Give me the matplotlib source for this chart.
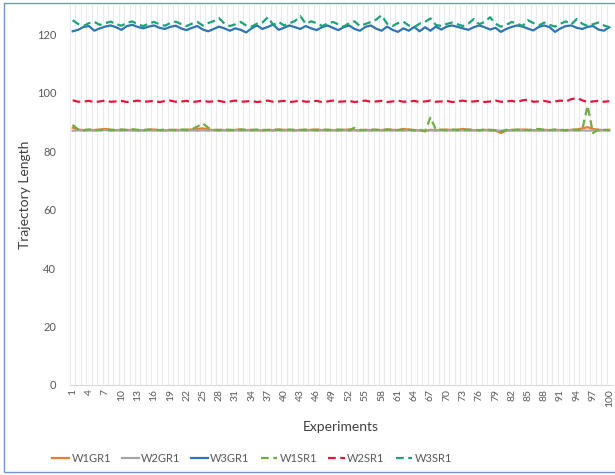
import numpy as np
import matplotlib.pyplot as plt
from matplotlib.patches import Rectangle

plt.rcParams['font.family'] = ['Lato', 'DejaVu Sans']

# experiments 1..100
experiments = list(range(1, 101))

# W1GR1 - orange solid
w1gr1 = [88.0, 87.4, 87.2, 87.3, 87.2, 87.4, 87.6, 87.3, 87.2, 87.3, 87.2, 87.3, 87.1, 87.2, 87.3, 87.4, 87.2, 87.1, 87.2, 87.3, 87.2, 87.3, 87.4, 87.6, 87.8,
         87.4, 87.2, 87.3, 87.2, 87.1, 87.3, 87.4, 87.2, 87.3, 87.2, 87.1, 87.3, 87.2, 87.4, 87.3, 87.2, 87.1, 87.3, 87.2, 87.3, 87.4, 87.2, 87.3, 87.2, 87.1,
         87.3, 87.4, 87.2, 87.1, 87.3, 87.2, 87.3, 87.2, 87.4, 87.3, 87.2, 87.6, 87.4, 87.2, 87.1, 86.8, 87.3, 87.2, 87.3, 87.4, 87.2, 87.3, 87.6, 87.3, 87.2,
         87.1, 87.3, 87.2, 87.0, 86.2, 87.0, 87.3, 87.2, 87.4, 87.3, 87.2, 87.1, 87.3, 87.2, 87.3, 87.2, 87.1, 87.3, 87.4, 87.8, 88.2, 87.6, 87.3, 87.2, 87.3]

# W2GR1 - gray solid
w2gr1 = [87.0, 87.1, 87.0, 87.1, 87.0, 87.1, 87.2, 87.0, 87.1, 87.0, 87.1, 87.0, 87.1, 87.0, 87.1, 87.0, 87.1, 87.0, 87.1, 87.0, 87.1, 87.0, 87.1, 87.0, 87.1,
         87.0, 87.1, 87.0, 87.1, 87.0, 87.1, 87.0, 87.1, 87.0, 87.1, 87.0, 87.1, 87.0, 87.1, 87.0, 87.1, 87.0, 87.1, 87.0, 87.1, 87.0, 87.1, 87.0, 87.1, 87.0,
         87.1, 87.0, 87.1, 87.0, 87.1, 87.0, 87.1, 87.0, 87.1, 87.0, 87.1, 87.0, 87.1, 87.0, 87.1, 87.0, 87.1, 87.0, 87.1, 87.0, 87.1, 87.0, 87.1, 87.0, 87.1,
         87.0, 87.1, 87.0, 87.1, 87.0, 87.1, 87.0, 87.1, 87.0, 87.1, 87.0, 87.1, 87.0, 87.1, 87.0, 87.1, 87.0, 87.1, 87.0, 87.1, 87.0, 87.1, 87.0, 87.1, 87.0]

# W3GR1 - blue solid
w3gr1 = [121.0, 121.5, 122.5, 122.8, 121.2, 122.0, 122.6, 123.0, 122.4, 121.5, 122.8, 123.2, 122.5, 122.0, 122.6, 123.0, 122.2, 121.8, 122.5, 122.9, 122.0, 121.4, 122.2, 122.8, 121.6,
         121.0, 121.8, 122.6, 122.0, 121.2, 122.0, 121.5, 120.6, 122.0, 123.0, 121.8, 122.5, 123.3, 121.5, 122.2, 123.0, 122.4, 121.8, 122.8, 122.0, 121.4, 122.4, 123.0, 122.2, 121.4,
         122.4, 123.0, 121.8, 121.2, 122.5, 123.0, 121.9, 121.2, 122.6, 121.5, 120.8, 122.0, 121.2, 122.5, 121.0, 122.4, 121.2, 122.6, 121.6, 122.6, 123.0, 122.5, 122.0, 121.5, 122.4,
         123.0, 122.4, 121.6, 122.2, 120.8, 121.8, 122.5, 123.0, 122.6, 121.9, 121.3, 122.5, 123.0, 122.4, 120.8, 122.0, 122.8, 123.0, 122.2, 121.8, 122.5, 122.8, 121.6, 121.2, 122.4]

# W1SR1 - green dashed
w1sr1 = [89.0, 87.4, 87.2, 87.4, 87.3, 87.2, 87.4, 87.3, 87.2, 87.4, 87.3, 87.5, 87.3, 87.2, 87.4, 87.3, 87.2, 87.4, 87.3, 87.2, 87.4, 87.3, 87.5, 88.4, 89.5,
         88.0, 87.3, 87.2, 87.4, 87.3, 87.2, 87.4, 87.3, 87.2, 87.4, 87.3, 87.2, 87.4, 87.3, 87.2, 87.4, 87.3, 87.2, 87.4, 87.3, 87.2, 87.4, 87.3, 87.2, 87.4,
         87.3, 87.2, 88.0, 87.3, 87.2, 87.4, 87.3, 87.2, 87.4, 87.3, 87.2, 87.4, 87.3, 87.2, 87.4, 86.8, 91.5, 87.4, 87.3, 87.2, 87.4, 87.3, 87.2, 87.4, 87.3,
         87.2, 87.4, 87.3, 87.2, 86.6, 87.3, 87.2, 87.4, 87.3, 87.2, 87.4, 87.6, 87.3, 87.2, 87.4, 87.3, 87.2, 87.4, 87.3, 87.2, 95.5, 86.2, 87.4, 87.3, 87.2]

# W2SR1 - red dashed
w2sr1 = [97.4, 96.9, 97.0, 97.2, 96.8, 97.0, 97.3, 96.9, 97.0, 97.2, 96.8, 97.0, 97.3, 96.9, 97.0, 97.2, 96.8, 97.1, 97.3, 96.9, 97.0, 97.2, 96.8, 97.0, 97.3,
         96.9, 97.0, 97.2, 96.8, 97.0, 97.3, 96.9, 97.0, 97.2, 96.8, 97.0, 97.3, 96.9, 97.0, 97.2, 96.8, 97.0, 97.3, 96.9, 97.0, 97.2, 96.8, 97.0, 97.3, 96.9,
         97.0, 97.2, 96.8, 97.0, 97.3, 96.9, 97.0, 97.2, 96.8, 97.0, 97.3, 96.9, 97.0, 97.2, 96.8, 97.0, 97.3, 96.9, 97.0, 97.2, 96.8, 97.0, 97.3, 96.9, 97.0,
         97.2, 96.8, 97.0, 97.3, 96.9, 97.0, 97.2, 96.8, 97.4, 97.6, 96.9, 97.0, 97.2, 96.8, 97.0, 97.3, 97.0, 97.8, 98.2, 97.4, 96.8, 97.0, 97.2, 96.9, 97.1]

# W3SR1 - teal dashed
w3sr1 = [124.8, 123.5, 122.8, 123.8, 124.2, 123.2, 123.8, 124.3, 123.5, 122.9, 123.9, 124.4, 123.4, 122.8, 123.6, 124.2, 123.4, 122.9, 123.8, 124.3, 123.5, 122.8, 123.6, 124.2, 123.0,
         123.8, 124.5, 125.5, 123.6, 122.8, 123.4, 124.2, 123.0, 122.6, 123.6, 124.0, 125.8, 123.2, 124.2, 123.0, 123.8, 124.5, 126.2, 123.6, 124.4, 123.8, 122.8, 123.6, 124.2, 123.4,
         122.6, 123.8, 124.4, 122.8, 123.5, 124.2, 125.0, 126.5, 123.6, 122.8, 123.8, 124.3, 123.0, 122.4, 123.6, 124.2, 125.4, 123.2, 122.8, 123.5, 124.0, 123.4, 122.8, 123.6, 125.2,
         123.4, 124.2, 125.8, 123.6, 122.6, 123.2, 124.2, 123.6, 122.8, 124.8, 123.8, 123.0, 124.0, 123.2, 122.6, 123.6, 124.4, 123.4, 125.2, 123.6, 122.8, 123.4, 124.0, 123.0, 122.4]

names = ['W1GR1', 'W2GR1', 'W3GR1', 'W1SR1', 'W2SR1', 'W3SR1']
series = [w1gr1, w2gr1, w3gr1, w1sr1, w2sr1, w3sr1]
colors = ['#ED7D31', '#A5A5A5', '#2E75B6', '#70AD47', '#E3173E', '#1CA37A']
styles = ['-', '-', '-', '--', '--', '--']

fig = plt.figure(figsize=(6.15, 4.75), dpi=100)
ax = fig.add_axes([0.1138, 0.1895, 0.8813, 0.80])

# chart border (right edge cut off like the reference)
fig.patches.append(Rectangle((0.006, 0.007), 1.1, 0.986, transform=fig.transFigure,
                             fill=False, edgecolor='#6F96CF', linewidth=1.0))

# vertical gridlines at category boundaries
for b in np.arange(0.5, 101, 1):
    ax.axvline(b, color='#E6E6E6', linewidth=0.6, zorder=0)

for name, vals, c, ls in zip(names, series, colors, styles):
    if ls == '--':
        ax.plot(experiments, vals, color=c, linestyle=(0, (3.5, 2)), linewidth=1.6, label=name, zorder=3)
    else:
        ax.plot(experiments, vals, color=c, linestyle='-', linewidth=1.6, label=name, zorder=2)

ax.set_xlim(0.5, 100.5)
ax.set_ylim(0, 130)
ax.set_yticks(range(0, 121, 20))
ax.set_xticks(experiments[::3])
ax.set_xticklabels([str(e) for e in experiments[::3]], rotation=90, fontsize=7.5, color='#595959')
ax.tick_params(axis='y', length=0, labelsize=8, labelcolor='#595959', pad=10)
ax.tick_params(axis='x', length=0, pad=3)

for s in ['top', 'right', 'left']:
    ax.spines[s].set_visible(False)
ax.spines['bottom'].set_color('#D9D9D9')

ax.set_ylabel('Trajectory Length', fontsize=10, color='#404040', labelpad=4)
ax.set_xlabel('Experiments', fontsize=10, color='#404040', labelpad=10)

fig.legend(loc='center', bbox_to_anchor=(0.41, 0.035), ncol=6, frameon=False,
           fontsize=8, labelcolor='#595959', handlelength=1.5, columnspacing=1.0, handletextpad=0.2)

fig.savefig('out.png', dpi=100)
